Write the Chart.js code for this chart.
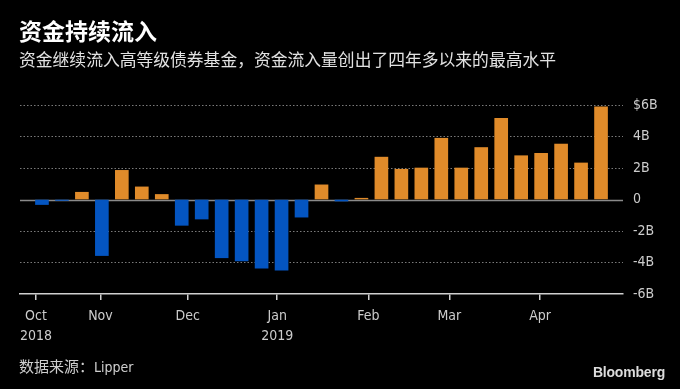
<!DOCTYPE html>
<html>
<head>
<meta charset="utf-8">
<script src="https://cdn.jsdelivr.net/npm/chart.js@4"></script>
<style>
    html, body { margin: 0; padding: 0; background: #000; }
    #wrap { position: relative; width: 680px; height: 389px; background: #000; overflow: hidden; }
    #chart { position: absolute; left: 0; top: 0; }
    .txt { position: absolute; white-space: nowrap; font-family: "Noto Sans CJK SC", "DejaVu Sans Condensed", sans-serif; }
    #title { left: 19px; top: 16px; font-size: 23px; line-height: 28px; font-weight: bold; color: #fff; }
    #subtitle { left: 19px; top: 48px; font-size: 16.8px; line-height: 22px; color: #e2e2e2; }
    #source { left: 19px; top: 356px; font-size: 15px; line-height: 20px; color: #cfcfcf; }
    #source span { font-family: "DejaVu Sans Condensed", sans-serif; font-size: 14px; }
    #logo { right: 15px; top: 364px; font-family: "Liberation Sans", Arial, sans-serif; font-size: 14px; font-weight: bold; color: #dcdcdc; letter-spacing: -0.2px; }
</style>
</head>
<body>
<div id="wrap">
    <canvas id="chart" width="680" height="389"></canvas>
    <div class="txt" id="title">资金持续流入</div>
    <div class="txt" id="subtitle">资金继续流入高等级债券基金，资金流入量创出了四年多以来的最高水平</div>
    <div class="txt" id="source">数据来源：<span>Lipper</span></div>
    <div class="txt" id="logo">Bloomberg</div>
</div>
<script>
// weekly flows into investment-grade bond funds, $B
const weeklyFlows = [
    -0.32, -0.06, 0.46, -3.56, 1.85, 0.80, 0.32, -1.64, -1.24, -3.70,
    -3.90, -4.36, -4.48, -1.12, 0.93, -0.10, 0.08, 2.69, 1.92, 2.00,
    3.89, 2.00, 3.30, 5.16, 2.78, 2.93, 3.52, 2.32, 5.89
];
// month ticks, in week-index units
const monthTickWeeks = [-0.3, 2.93, 7.3, 11.78, 16.35, 20.4, 24.95];
const monthTickLabels = [['Oct', '2018'], ['Nov'], ['Dec'], ['Jan', '2019'], ['Feb'], ['Mar'], ['Apr']];
const yTicks = [-6, -4, -2, 0, 2, 4, 6];

const ORANGE = '#e08b2a';
const BLUE = '#0455c1';
const tickFont = { family: '"DejaVu Sans Condensed", sans-serif', size: 14 };

const points = weeklyFlows.map((v, i) => ({ x: i, y: v }));
const barColors = weeklyFlows.map(v => v < 0 ? BLUE : ORANGE);

// solid zero line under the bars
const zeroLine = {
    id: 'zeroLine',
    beforeDatasetsDraw(chart) {
        const { ctx, chartArea, scales } = chart;
        const y = Math.round(scales.y.getPixelForValue(0)) + 0.5;
        ctx.save();
        ctx.strokeStyle = '#8a8a8a';
        ctx.lineWidth = 1.5;
        ctx.beginPath();
        ctx.moveTo(chartArea.left, y);
        ctx.lineTo(chartArea.right, y);
        ctx.stroke();
        ctx.restore();
    }
};

const ctx = document.getElementById('chart').getContext('2d');
new Chart(ctx, {
    type: 'bar',
    data: {
        datasets: [{
            data: points,
            backgroundColor: barColors,
            borderWidth: 0,
            barThickness: 13
        }]
    },
    options: {
        responsive: false,
        animation: false,
        events: [],
        layout: { padding: { left: 20, top: 105, right: 0, bottom: 0 } },
        plugins: {
            legend: { display: false },
            tooltip: { enabled: false }
        },
        scales: {
            x: {
                type: 'linear',
                offset: false,
                min: -1.1,
                max: 29.1,
                afterBuildTicks(scale) {
                    scale.ticks = monthTickWeeks.map(v => ({ value: v }));
                },
                afterFit(scale) {
                    scale.height = 95;
                },
                ticks: {
                    autoSkip: false,
                    maxRotation: 0,
                    color: '#cccccc',
                    font: { ...tickFont, lineHeight: 1.4 },
                    padding: 7,
                    callback: (value, index) => monthTickLabels[index]
                },
                grid: {
                    offset: false,
                    drawOnChartArea: false,
                    drawTicks: true,
                    tickLength: 6,
                    color: '#cfcfcf',
                    lineWidth: 1.5
                },
                border: { display: true, color: '#cfcfcf', width: 1.5 }
            },
            y: {
                position: 'right',
                min: -6,
                max: 6,
                afterBuildTicks(scale) {
                    scale.ticks = yTicks.map(v => ({ value: v }));
                },
                afterFit(scale) {
                    scale.width = 57;
                },
                ticks: {
                    color: '#cccccc',
                    font: tickFont,
                    padding: 10,
                    callback: v => v === 0 ? '0' : (v === 6 ? '$6B' : v + 'B')
                },
                grid: {
                    drawTicks: false,
                    color: ctx => (ctx.tick && (ctx.tick.value === 0 || ctx.tick.value === -6)) ? 'rgba(0,0,0,0)' : '#7a7a7a',
                    lineWidth: 1
                },
                border: { display: false, dash: [1.5, 2] }
            }
        }
    },
    plugins: [zeroLine]
});
</script>
</body>
</html>
